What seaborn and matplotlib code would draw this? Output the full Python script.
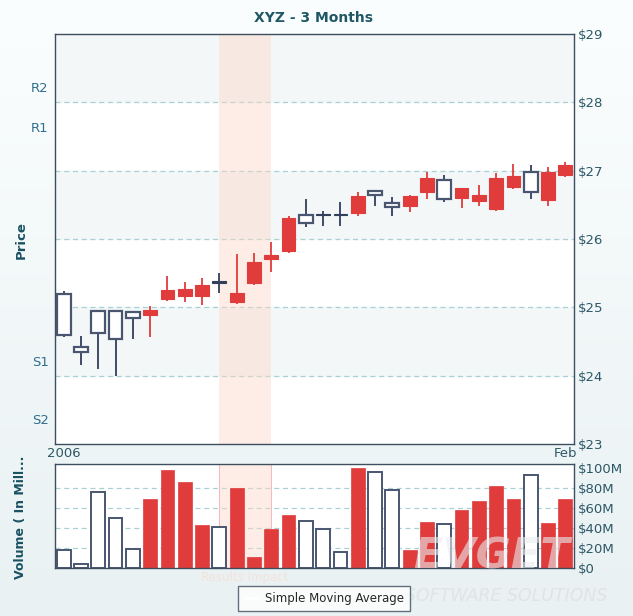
import seaborn as sns
import matplotlib.pyplot as plt
import pandas as pd
import numpy as np
from matplotlib.lines import Line2D
from matplotlib.transforms import blended_transform_factory

# Daily candles
days = list(range(30))
opens = [24.60, 24.35, 24.63, 24.53, 24.84, 24.96, 25.25, 25.27, 25.33, 25.37,
         25.21, 25.66, 25.77, 26.31, 26.23, 26.36, 26.36, 26.63, 26.64, 26.47,
         26.63, 26.89, 26.59, 26.75, 26.65, 26.90, 26.92, 26.69, 26.98, 27.08]
closes = [25.19, 24.415, 24.95, 24.95, 24.93, 24.89, 25.12, 25.17, 25.16, 25.37,
          25.08, 25.36, 25.71, 25.82, 26.35, 26.36, 26.36, 26.38, 26.70, 26.53,
          26.49, 26.69, 26.87, 26.60, 26.56, 26.44, 26.76, 26.985, 26.57, 26.93]
highs = [25.24, 24.58, 24.95, 24.95, 24.93, 25.02, 25.46, 25.37, 25.43, 25.50,
         25.78, 25.80, 25.96, 26.34, 26.59, 26.41, 26.54, 26.69, 26.72, 26.61,
         26.65, 26.98, 26.93, 26.75, 26.79, 26.96, 27.10, 27.08, 27.05, 27.13]
lows = [24.57, 24.16, 24.10, 24.00, 24.54, 24.57, 25.10, 25.08, 25.04, 25.21,
        25.05, 25.33, 25.52, 25.80, 26.18, 26.19, 26.19, 26.33, 26.49, 26.33,
        26.39, 26.59, 26.54, 26.46, 26.49, 26.41, 26.73, 26.58, 26.49, 26.91]
volumes = [18, 4, 76, 50, 19, 69, 98, 86, 43, 41,
           80, 11, 39, 53, 47, 39, 16, 100, 96, 78,
           18, 46, 44, 58, 67, 82, 69, 93, 45, 69]

price_ticks = [23, 24, 25, 26, 27, 28, 29]
price_labels = ['$23', '$24', '$25', '$26', '$27', '$28', '$29']
vol_ticks = [0, 20, 40, 60, 80, 100]
vol_labels = ['$0', '$20M', '$40M', '$60M', '$80M', '$100M']
pivot_names = ['R2', 'R1', 'S1', 'S2']
pivot_values = [28.20, 27.62, 24.20, 23.35]
date_ticks = [0, 29]
date_labels = ['2006', 'Feb']
impact_span = (9, 12)

df = pd.DataFrame({'day': days, 'open': opens, 'close': closes,
                   'high': highs, 'low': lows, 'volume': volumes})
df['dir'] = np.where(df['close'] >= df['open'], 'up', 'down')

red = '#e03c3c'
navy = '#333d5c'
grid_c = '#a9d0d2'
text_c = '#2c5866'
edge_c = '#3d4e5e'

sns.set_theme(style='white')
plt.rcParams['font.family'] = ['DejaVu Sans']

fig = plt.figure(figsize=(6.33, 6.16), dpi=100)

# soft background gradient
bg = fig.add_axes([0, 0, 1, 1], zorder=-10)
grad = np.linspace(0, 1, 256).reshape(-1, 1)
bg.imshow(grad, aspect='auto', cmap=sns.blend_palette(['#fbfefe', '#e9f1f3'], as_cmap=True),
          extent=[0, 1, 0, 1])
bg.axis('off')

ax = fig.add_axes([0.0869, 0.2792, 0.8199, 0.6656])
axv = fig.add_axes([0.0869, 0.0779, 0.8199, 0.1688])

# ---- price panel ----
ax.set_xlim(-0.5, 29.5)
ax.set_ylim(23, 29)
ax.set_facecolor('white')
for lo in [24, 26, 28]:
    ax.axhspan(lo, lo + 1, color='#f3f7f8', zorder=0)
for t in price_ticks[1:-1]:
    ax.axhline(t, color=grid_c, ls=(0, (4, 3)), lw=0.9, zorder=1)
ax.axvspan(*impact_span, color='#fcd9c8', alpha=0.45, zorder=1, lw=0)

w = 0.8
for _, r in df.iterrows():
    doji = abs(r['close'] - r['open']) < 0.005
    if r['dir'] == 'down':
        fc, ec, wc = red, red, red
    else:
        fc, ec, wc = 'white', '#4a5570', navy
    if doji:
        fc, ec, wc = navy, navy, navy
    ax.vlines(r['day'], r['low'], r['high'], color=wc, lw=1.3, zorder=2)
    lo_b = min(r['open'], r['close'])
    h = max(abs(r['close'] - r['open']), 0.02)
    ax.bar(r['day'], h, bottom=lo_b if not doji else lo_b - 0.01, width=w,
           color=fc, edgecolor=ec, linewidth=1.6 if r['dir'] == 'up' and not doji else 0.8,
           zorder=3)

ax.yaxis.tick_right()
ax.set_yticks(price_ticks)
ax.set_yticklabels(price_labels)
ax.set_xticks(date_ticks)
ax.set_xticklabels(date_labels)
ax.tick_params(length=0, labelsize=9.5, labelcolor=text_c, pad=3)
ax.tick_params(axis='x', pad=2)
ax.set_ylabel('')
for s in ax.spines.values():
    s.set_color(edge_c)
    s.set_linewidth(1.0)

trans = blended_transform_factory(ax.transAxes, ax.transData)
for name, val in zip(pivot_names, pivot_values):
    ax.text(-0.012, val, name, transform=trans, ha='right', va='center',
            fontsize=9.5, color='#2f6f8f')

# ---- volume panel ----
axv.set_facecolor('white')
for t in vol_ticks[1:-1]:
    axv.axhline(t, color=grid_c, ls=(0, (4, 3)), lw=0.9, zorder=0)
axv.axvspan(*impact_span, color='#fcd9c8', alpha=0.45, zorder=0.5, lw=0)
sns.barplot(data=df, x='day', y='volume', hue='dir', palette={'up': 'white', 'down': red},
            dodge=False, native_scale=True, width=0.8, legend=False, ax=axv,
            saturation=1, zorder=2)
for p in axv.patches:
    if p.get_facecolor()[0] > 0.95 and p.get_facecolor()[1] > 0.95:
        p.set_edgecolor('#4a5570')
        p.set_linewidth(1.4)
    else:
        p.set_edgecolor(red)
        p.set_linewidth(0.5)
axv.set_xlim(-0.5, 29.5)
axv.set_ylim(0, 104)
axv.yaxis.tick_right()
axv.set_yticks(vol_ticks)
axv.set_yticklabels(vol_labels)
axv.set_xticks([])
axv.set_xlabel('')
axv.set_ylabel('')
axv.tick_params(length=0, labelsize=9.5, labelcolor=text_c, pad=3)
for s in axv.spines.values():
    s.set_color(edge_c)
    s.set_linewidth(1.0)

# ---- titles and labels ----
fig.text(0.496, 0.971, 'XYZ - 3 Months', ha='center', va='center', fontsize=10,
         fontweight='bold', color='#1f5864')
fig.text(0.033, 0.610, 'Price', rotation=90, ha='center', va='center', fontsize=9.5,
         fontweight='bold', color='#1a5262')
fig.text(0.033, 0.161, 'Volume ( In Mill...', rotation=90, ha='center', va='center',
         fontsize=9, fontweight='bold', color='#1a5262')
fig.text(0.387, 0.063, 'Results Impact', ha='center', va='center', fontsize=8.5,
         color='#f4e2db')

# watermark over the volume bars
fig.text(0.776, 0.097, 'EVGET', ha='center', va='center', fontsize=31, fontweight='bold',
         style='italic', color='#e8ecee', alpha=0.6, zorder=10)
fig.text(0.80, 0.032, 'SOFTWARE SOLUTIONS', ha='center', va='center', fontsize=12.5,
         style='italic', color='#dfe4e6')

leg = fig.legend(handles=[Line2D([], [], color='white', lw=2)], labels=['Simple Moving Average'],
                 loc='center', bbox_to_anchor=(0.512, 0.029), fontsize=8.5, frameon=True,
                 fancybox=False, handlelength=1.2, handletextpad=0.6, borderpad=0.5)
leg.get_frame().set_edgecolor(edge_c)
leg.get_frame().set_linewidth(1.0)
leg.get_frame().set_facecolor('white')

fig.savefig('out.png', dpi=100)
